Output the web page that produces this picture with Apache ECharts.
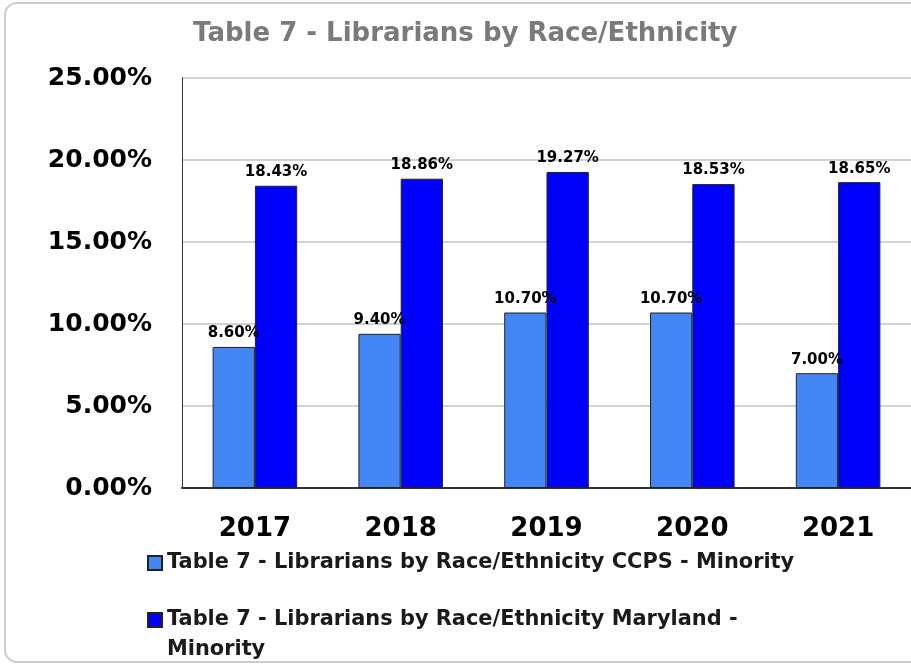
<!DOCTYPE html>
<html>
<head>
<meta charset="utf-8">
<script src="https://cdn.jsdelivr.net/npm/echarts@6/dist/echarts.min.js"></script>
<style>
  html, body { margin: 0; padding: 0; background: #ffffff; overflow: hidden; }
  #chart { width: 911px; height: 666px; }
</style>
</head>
<body>
<div id="chart"></div>
<script>
// Librarians by race/ethnicity: share identifying as minority
const years = ['2017', '2018', '2019', '2020', '2021'];
const ccpsMinority = [8.60, 9.40, 10.70, 10.70, 7.00];
const marylandMinority = [18.43, 18.86, 19.27, 18.53, 18.65];

const ccpsName = 'Table 7 - Librarians by Race/Ethnicity CCPS - Minority';
const marylandName = 'Table 7 - Librarians by Race/Ethnicity Maryland - Minority';

const FONT = 'DejaVu Sans';

// square swatch sitting at the top of a taller box, so it lines up with
// the first line of a wrapped legend label
const topSquareIcon = 'path://M0,0L14,0L14,14L0,14ZM0,44';

const chart = echarts.init(document.getElementById('chart'));

const labelStyle = {
  show: true,
  position: 'top',
  distance: 6,
  fontFamily: FONT,
  fontWeight: 'bold',
  fontSize: 15,
  color: '#000',
  formatter: p => p.value.toFixed(2) + '%'
};

const legendText = {
  fontFamily: FONT,
  fontWeight: 'bold',
  fontSize: 20.9,
  color: '#1a1a1a'
};

// frame around the chart: open on the right, rounded corners on the left
const frameStyle = { fill: null, stroke: '#cccccc', lineWidth: 2 };
const frame = [
  { type: 'line', shape: { x1: 17, y1: 3, x2: 911, y2: 3 } },
  { type: 'line', shape: { x1: 5, y1: 15, x2: 5, y2: 650 } },
  { type: 'line', shape: { x1: 17, y1: 662, x2: 911, y2: 662 } },
  { type: 'arc', shape: { cx: 17, cy: 15, r: 12, startAngle: Math.PI, endAngle: Math.PI * 1.5 } },
  { type: 'arc', shape: { cx: 17, cy: 650, r: 12, startAngle: Math.PI * 0.5, endAngle: Math.PI } }
].map(el => Object.assign(el, { silent: true, z: -10, style: frameStyle }));

chart.setOption({
  animation: false,
  backgroundColor: '#ffffff',
  graphic: frame,
  title: {
    text: 'Table 7 - Librarians by Race/Ethnicity',
    left: 193,
    top: 21,
    padding: 0,
    textStyle: {
      fontFamily: FONT,
      fontWeight: 'bold',
      fontSize: 26,
      color: '#7a7a7a'
    }
  },
  legend: [{
    data: [{ name: ccpsName, icon: 'rect' }],
    orient: 'vertical',
    left: 147,
    top: 551,
    padding: 0,
    itemWidth: 14,
    itemHeight: 14,
    textStyle: Object.assign({ lineHeight: 24 }, legendText)
  }, {
    data: [{ name: marylandName, icon: topSquareIcon }],
    orient: 'vertical',
    left: 147,
    top: 605,
    padding: 0,
    itemWidth: 14,
    itemHeight: 44,
    formatter: name => name.replace('Maryland - ', 'Maryland -\n'),
    textStyle: Object.assign({ lineHeight: 30 }, legendText)
  }],
  grid: {
    left: 182,
    right: -1,
    top: 78,
    bottom: 178,
    containLabel: false
  },
  xAxis: {
    type: 'category',
    data: years,
    axisTick: { show: false },
    axisLine: { show: true, lineStyle: { color: '#333', width: 2 } },
    axisLabel: {
      margin: 28,
      fontFamily: FONT,
      fontWeight: 'bold',
      fontSize: 26,
      color: '#000'
    }
  },
  yAxis: {
    type: 'value',
    min: 0,
    max: 25,
    interval: 5,
    axisLine: { show: true, lineStyle: { color: '#333', width: 1 } },
    axisTick: { show: false },
    splitLine: { show: true, lineStyle: { color: '#d2d2d2', width: 2 } },
    axisLabel: {
      margin: 30,
      fontFamily: FONT,
      fontWeight: 'bold',
      fontSize: 25,
      color: '#000',
      formatter: v => v.toFixed(2) + '%'
    }
  },
  series: [{
    name: ccpsName,
    type: 'bar',
    data: ccpsMinority,
    barGap: '0%',
    barCategoryGap: '42%',
    itemStyle: { color: '#4287f5', borderColor: '#222', borderWidth: 1 },
    label: labelStyle
  }, {
    name: marylandName,
    type: 'bar',
    data: marylandMinority,
    itemStyle: { color: '#0000ff', borderColor: '#222', borderWidth: 1 },
    label: labelStyle
  }]
});
</script>
</body>
</html>
